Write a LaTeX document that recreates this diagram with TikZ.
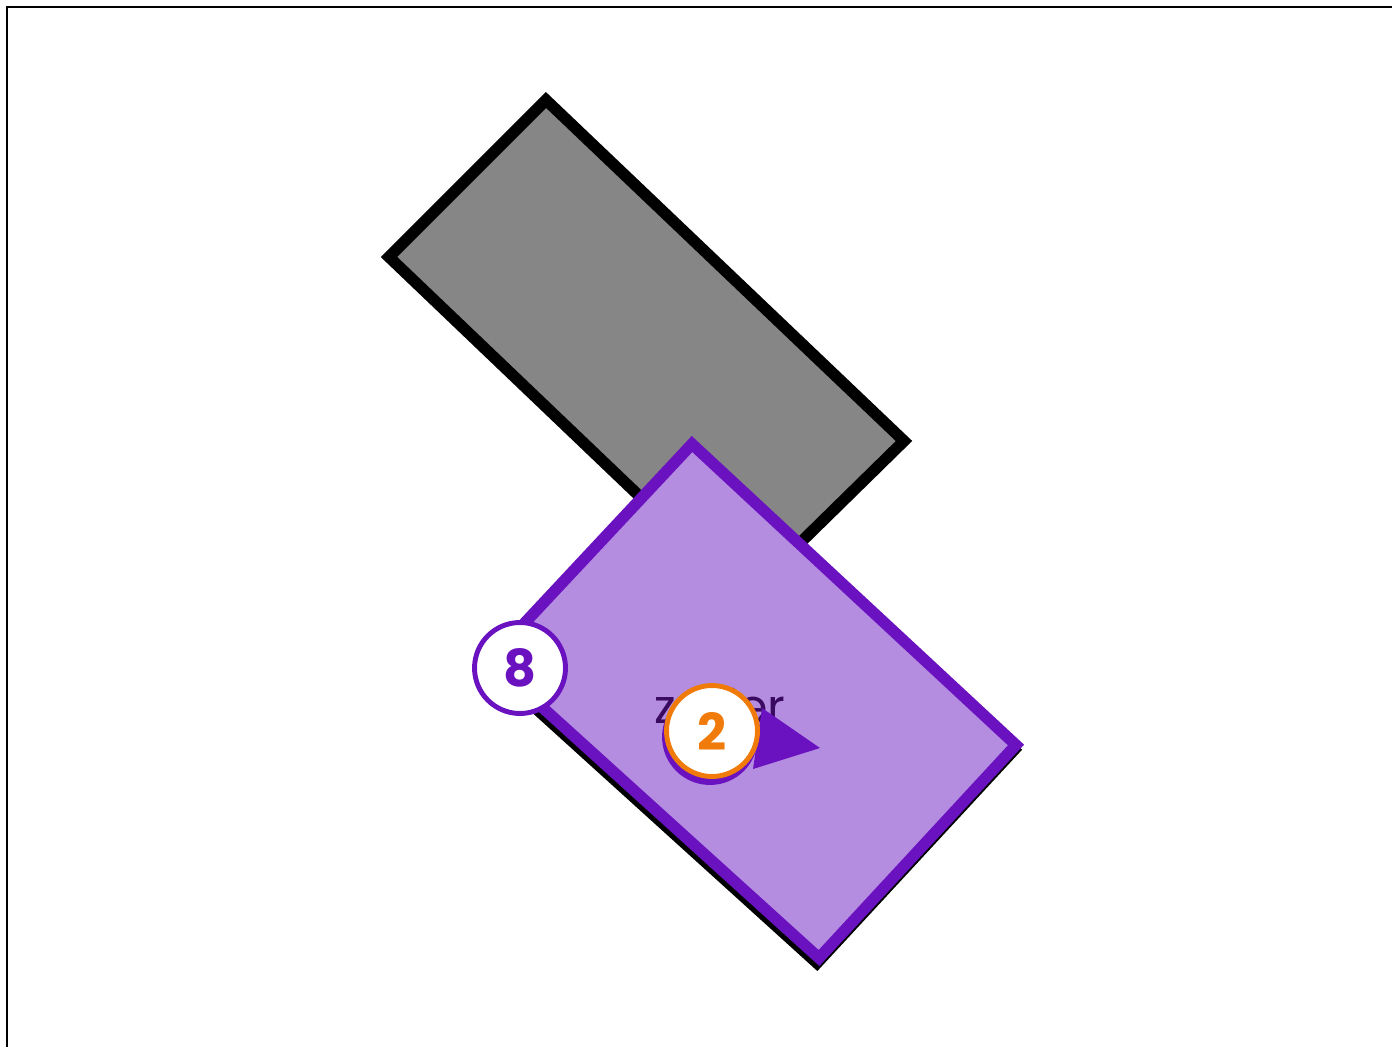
\documentclass[tikz,border=0pt]{standalone}
\usepackage{fontspec}
\setmainfont{Poppins}
\usetikzlibrary{calc}

\definecolor{slabgray}{HTML}{868686}
\definecolor{lilac}{HTML}{B48CE0}
\definecolor{violet}{HTML}{6A12C0}
\definecolor{inkpurple}{HTML}{3A0A60}
\definecolor{tangerine}{HTML}{F07A0A}

\begin{document}
\begin{tikzpicture}[
    x=0.02cm, y=-0.02cm,
    slab/.style = {draw=black, fill=slabgray, line width=6.5pt, line join=miter},
    card/.style = {draw=violet, fill=lilac, line width=6.5pt, line join=miter},
    cardshadow/.style = {draw=black, fill=black, line width=6.5pt, line join=miter},
    badge/.style = {circle, fill=white, line width=2.8pt, minimum size=1.82cm, inner sep=0pt, font=\fontsize{29}{29}\selectfont\bfseries},
    pointer/.style = {fill=violet, draw=none}
]
\useasboundingbox (0,0) rectangle (1392,1047);

% frame edges
\draw[line width=1.4pt] (7,1047) -- (7,7) -- (1392,7);

% gray slab
\coordinate (g1) at (546,100);
\coordinate (g2) at (904,441);
\coordinate (g3) at (745,597);
\coordinate (g4) at (389,257);
\draw[slab] (g1) -- (g2) -- (g3) -- (g4) -- cycle;

% purple card with its shadow
\coordinate (p1) at (692,444);
\coordinate (p2) at (1016,745);
\coordinate (p3) at (819,958);
\coordinate (p4) at (490,660);
\draw[cardshadow] ($(p1)+(-2,5)$) -- ($(p2)+(-2,5)$) -- ($(p3)+(-2,5)$) -- ($(p4)+(-2,5)$) -- cycle;
\draw[card] (p1) -- (p2) -- (p3) -- (p4) -- cycle;

% label on the card
\node[text=inkpurple, font=\fontsize{27}{27}\selectfont] (lbl) at (720,706) {zoder};

% pointer triangle
\coordinate (t1) at (762,708);
\coordinate (t2) at (820,748);
\coordinate (t3) at (753,769);
\fill[pointer] (t1) -- (t2) -- (t3) -- cycle;

% badges
\node[badge, draw=violet, fill=violet] (b2s) at (710,737) {};
\node[badge, draw=tangerine, text=tangerine] (b2) at (712,731) {2};
\node[badge, draw=violet, text=violet] (b8) at (520,668) {8};

\end{tikzpicture}
\end{document}
